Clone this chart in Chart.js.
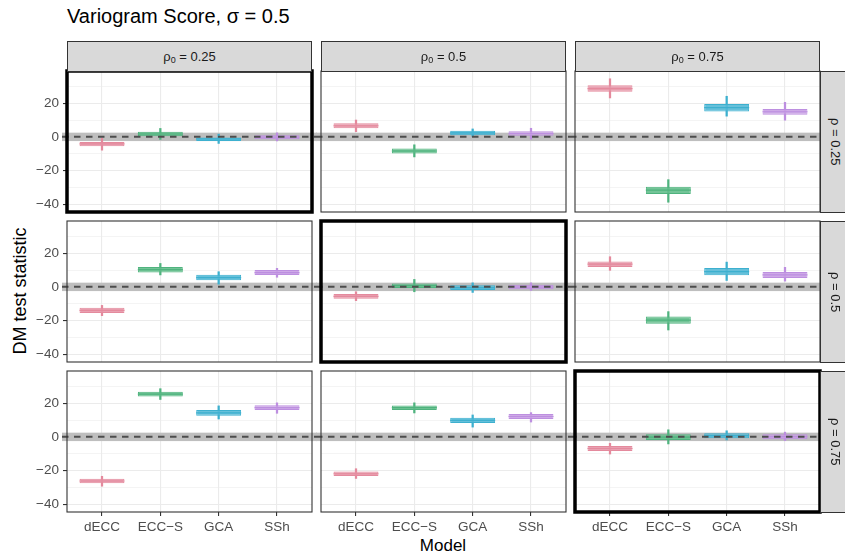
<!DOCTYPE html>
<html>
<head>
<meta charset="utf-8">
<script src="https://cdn.jsdelivr.net/npm/chart.js@4.4.1/dist/chart.umd.min.js"></script>
<style>
  body { margin: 0; background: #fff; font-family: "Liberation Sans", Arial, sans-serif; }
  #plot { position: relative; width: 845px; height: 558px; overflow: hidden; }
  #plot canvas { position: absolute; }
  .strip { position: absolute; background: #d9d9d9; border: 1px solid #333; box-sizing: border-box;
           color: #1a1a1a; font-size: 13px; display: flex; align-items: center; justify-content: center; z-index: 2; }
  .strip.side span { writing-mode: vertical-rl; }
  .strip sub { font-size: 9px; vertical-align: -2px; }
  #title { position: absolute; left: 67px; top: 5px; font-size: 20px; color: #000; white-space: nowrap; }
  #ytitle { position: absolute; left: 20px; top: 291px; font-size: 18px; white-space: nowrap;
            transform: translate(-50%, -50%) rotate(-90deg); }
  #xtitle { position: absolute; left: 443px; top: 546px; font-size: 17px; transform: translate(-50%, -50%); }
</style>
</head>
<body>
<div id="plot">
  <div id="title">Variogram Score, σ = 0.5</div>
  <div id="ytitle">DM test statistic</div>
  <div id="xtitle">Model</div>
</div>
<script>
// ===== DADOS =====
const MODELS = ['dECC', 'ECC\u2212S', 'GCA', 'SSh'];
const RHO0 = ['0.25', '0.5', '0.75'];   // colunas
const RHO = ['0.25', '0.5', '0.75'];    // linhas
const Y_MAJOR = [-40, -20, 0, 20];
const Y_MINOR = [-30, -10, 10, 30];
const Y_MIN = -44.6, Y_MAX = 39.1;
const BAND = [-2.5, 2.5];

const STROKE = ['#e48a9d', '#4fb37e', '#3db0cf', '#bd8fe0'];
const FILL = ['rgba(231,150,168,0.9)', 'rgba(100,190,140,0.9)', 'rgba(85,185,214,0.9)', 'rgba(201,160,228,0.9)'];

// [linha rho][coluna rho0][modelo]
const LOWER = [
  [[-7.9, -1.5, -3.9, -2.4], [3.1, -11.9, 0.2, -1.4], [23.1, -38.8, 12.3, 9.9]],
  [[-17.1, 7.1, 1.6, 5.7], [-8.2, -2.9, -3.3, -2.1], [9.8, -25.6, 3.8, 3.4]],
  [[-29.3, 22.2, 10.6, 14.0], [-24.7, 14.2, 5.8, 8.8], [-10.2, -4.2, -1.8, -2.2]]
];
const Q1 = [
  [[-5.5, 0.4, -2.4, -1.4], [5.1, -9.8, 1.0, 0.6], [26.8, -33.9, 15.1, 13.1]],
  [[-15.5, 8.6, 3.9, 7.1], [-7.1, -0.6, -1.8, -1.4], [11.8, -21.9, 6.9, 5.3]],
  [[-27.5, 24.0, 12.6, 16.0], [-23.3, 16.0, 8.2, 10.6], [-8.4, -1.8, -0.8, -1.4]]
];
const MEDIAN = [
  [[-4.2, 1.7, -1.2, -0.2], [6.6, -8.4, 2.4, 2.0], [28.6, -31.6, 17.4, 14.9]],
  [[-14.0, 10.2, 5.5, 8.5], [-5.7, 0.7, -0.4, -0.1], [13.5, -19.8, 9.1, 7.1]],
  [[-26.2, 25.4, 14.3, 17.4], [-21.9, 17.3, 9.8, 12.1], [-6.9, -0.1, 0.7, 0.1]]
];
const Q3 = [
  [[-3.0, 3.0, 0.0, 1.0], [8.1, -6.9, 3.7, 3.3], [30.7, -29.6, 19.5, 16.6]],
  [[-12.4, 11.8, 7.2, 10.0], [-4.3, 2.0, 1.0, 1.2], [15.1, -17.6, 11.2, 8.8]],
  [[-24.9, 26.8, 16.0, 18.8], [-20.5, 18.6, 11.4, 13.6], [-5.4, 1.6, 2.2, 1.6]]
];
const UPPER = [
  [[-0.9, 5.0, 1.6, 2.4], [10.0, -4.7, 4.7, 5.1], [34.5, -25.4, 24.1, 20.5]],
  [[-11.0, 13.9, 9.0, 11.0], [-2.9, 4.4, 2.4, 2.4], [17.9, -14.7, 14.7, 11.6]],
  [[-23.4, 28.6, 18.4, 20.2], [-18.9, 20.2, 13.0, 14.4], [-3.8, 4.2, 3.6, 2.8]]
];

// ===== LAYOUT =====
const PANEL_LEFT = [67, 321, 575];
const PANEL_TOP = [71, 221, 371];
const PANEL_W = 245, PANEL_H = 141;
const PAGE_H = 558;

Chart.defaults.font.family = '"Liberation Sans", Arial, sans-serif';

const fmt = v => (v < 0 ? '\u2212' + Math.abs(v) : String(v));

// faixa cinza + linha tracejada + borda do painel
const panelDecor = {
  id: 'panelDecor',
  beforeDatasetsDraw(chart) {
    const { ctx, chartArea: a, scales: { y } } = chart;
    const top = y.getPixelForValue(BAND[1]);
    const bot = y.getPixelForValue(BAND[0]);
    ctx.save();
    ctx.fillStyle = '#bebebe';
    ctx.fillRect(a.left - 5, top, a.width + 10, bot - top);
    ctx.restore();
  },
  afterDatasetsDraw(chart, args, opts) {
    const { ctx, chartArea: a, scales: { y } } = chart;
    const y0 = y.getPixelForValue(0);
    ctx.save();
    ctx.strokeStyle = '#4d4d4d';
    ctx.lineWidth = 2;
    ctx.setLineDash([6.5, 5.5]);
    ctx.beginPath();
    ctx.moveTo(a.left - 5, y0);
    ctx.lineTo(a.right + 5, y0);
    ctx.stroke();
    ctx.setLineDash([]);
    if (opts.highlight) {
      ctx.strokeStyle = '#000';
      ctx.lineWidth = 3.5;
    } else {
      ctx.strokeStyle = '#333';
      ctx.lineWidth = 1.1;
    }
    ctx.strokeRect(a.left, a.top, a.width, a.height);
    ctx.restore();
  }
};

const plot = document.getElementById('plot');

function addStrip(cls, left, top, w, h, html) {
  const d = document.createElement('div');
  d.className = 'strip ' + cls;
  Object.assign(d.style, { left: left + 'px', top: top + 'px', width: w + 'px', height: h + 'px' });
  d.innerHTML = '<span>' + html + '</span>';
  plot.appendChild(d);
}

RHO0.forEach((r0, c) => addStrip('top', PANEL_LEFT[c], 41, PANEL_W, 31, 'ρ<sub>0</sub> = ' + r0));
RHO.forEach((r, i) => addStrip('side', PANEL_LEFT[2] + PANEL_W, PANEL_TOP[i], 30, PANEL_H + 1, 'ρ = ' + r));

function makePanel(r, c) {
  const L = PANEL_LEFT[c], T = PANEL_TOP[r];
  const isLeft = c === 0;
  const isBottom = r === RHO.length - 1;
  const cx = isLeft ? 0 : L - 5;
  const cy = T - 5;
  const cw = L + PANEL_W + 5 - cx;
  const ch = (isBottom ? PAGE_H : T + PANEL_H + 5) - cy;

  const canvas = document.createElement('canvas');
  canvas.width = cw;
  canvas.height = ch;
  canvas.style.left = cx + 'px';
  canvas.style.top = cy + 'px';
  plot.appendChild(canvas);

  const isMajor = v => Y_MAJOR.includes(v);

  new Chart(canvas.getContext('2d'), {
    type: 'bar',
    data: {
      datasets: [
        {
          type: 'line',
          data: MEDIAN[r][c].map((m, i) => ({ x: i, y: m })),
          showLine: false,
          pointStyle: 'line',
          pointRadius: 22.5,
          pointBorderColor: STROKE,
          pointBorderWidth: 1.2,
          order: 1
        },
        {
          data: Q1[r][c].map((q, i) => ({ x: i, y: [q, Q3[r][c][i]] })),
          backgroundColor: FILL,
          borderColor: STROKE,
          borderWidth: 1,
          borderSkipped: false,
          grouped: false,
          barPercentage: 0.77,
          categoryPercentage: 1,
          order: 2
        },
        {
          data: LOWER[r][c].map((lo, i) => ({ x: i, y: [lo, UPPER[r][c][i]] })),
          backgroundColor: STROKE,
          barThickness: 1.6,
          grouped: false,
          order: 3
        }
      ]
    },
    options: {
      responsive: false,
      animation: false,
      events: [],
      layout: {
        autoPadding: false,
        padding: { left: isLeft ? 0 : 5, right: 5, top: 5, bottom: isBottom ? 0 : 5 }
      },
      plugins: {
        legend: { display: false },
        tooltip: { enabled: false },
        panelDecor: { highlight: r === c }
      },
      scales: {
        x: {
          type: 'linear',
          min: -0.6,
          max: MODELS.length - 0.4,
          offset: false,
          afterBuildTicks: s => { s.ticks = MODELS.map((m, i) => ({ value: i })); },
          afterFit: s => { s.height = isBottom ? PAGE_H - (T + PANEL_H) : 0; s.paddingLeft = 0; s.paddingRight = 0; },
          border: { display: false },
          grid: { color: '#ebebeb', lineWidth: 1.1, offset: false, drawTicks: isBottom, tickLength: 4, tickColor: '#333' },
          ticks: {
            display: isBottom,
            callback: v => MODELS[v],
            color: '#4d4d4d',
            font: { size: 13.5 },
            padding: 3,
            maxRotation: 0,
            autoSkip: false
          }
        },
        y: {
          min: Y_MIN,
          max: Y_MAX,
          afterBuildTicks: s => { s.ticks = [...Y_MAJOR, ...Y_MINOR].sort((a, b) => a - b).map(v => ({ value: v })); },
          afterFit: s => { s.width = isLeft ? L : 0; s.paddingTop = 0; s.paddingBottom = 0; },
          border: { display: false },
          grid: {
            color: '#ebebeb',
            lineWidth: ctx => (isMajor(ctx.tick.value) ? 1.1 : 0.55),
            drawTicks: isLeft,
            tickLength: 4,
            tickColor: ctx => (isMajor(ctx.tick.value) ? '#333' : 'rgba(0,0,0,0)')
          },
          ticks: {
            display: isLeft,
            callback: v => (isMajor(v) ? fmt(v) : ''),
            color: '#4d4d4d',
            font: { size: 13.5 },
            padding: 4,
            autoSkip: false
          }
        }
      }
    },
    plugins: [panelDecor]
  });
}

RHO.forEach((rho, r) => RHO0.forEach((rho0, c) => makePanel(r, c)));
</script>
</body>
</html>
